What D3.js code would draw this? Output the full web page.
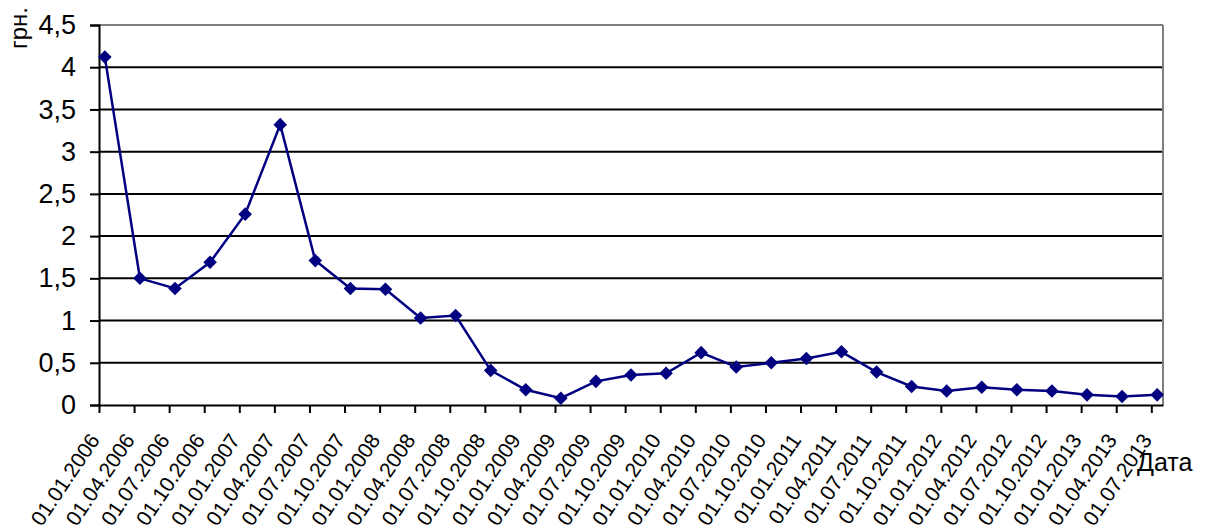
<!DOCTYPE html>
<html>
<head>
<meta charset="utf-8">
<script src="https://cdn.jsdelivr.net/npm/d3@7"></script>
<style>
  html, body { margin: 0; padding: 0; background: #fff; }
  svg { display: block; font-family: Arial, "Liberation Sans", sans-serif; }
</style>
</head>
<body>
<svg id="chart" width="1206" height="531"></svg>
<script>
// Quarterly dates (x categories)
const dates = [
  "01.01.2006","01.04.2006","01.07.2006","01.10.2006",
  "01.01.2007","01.04.2007","01.07.2007","01.10.2007",
  "01.01.2008","01.04.2008","01.07.2008","01.10.2008",
  "01.01.2009","01.04.2009","01.07.2009","01.10.2009",
  "01.01.2010","01.04.2010","01.07.2010","01.10.2010",
  "01.01.2011","01.04.2011","01.07.2011","01.10.2011",
  "01.01.2012","01.04.2012","01.07.2012","01.10.2012",
  "01.01.2013","01.04.2013","01.07.2013"
];
// Price, UAH
const values = [
  4.12, 1.50, 1.38, 1.69,
  2.26, 3.32, 1.71, 1.38,
  1.37, 1.03, 1.06, 0.41,
  0.18, 0.08, 0.28, 0.355,
  0.375, 0.62, 0.45, 0.50,
  0.55, 0.63, 0.39, 0.22,
  0.165, 0.21, 0.18, 0.165,
  0.12, 0.10, 0.12
];
const yTicks = [0, 0.5, 1, 1.5, 2, 2.5, 3, 3.5, 4, 4.5];
const yTitle = "грн.";
const xTitle = "Дата";

// months since 01.01.2006 for a dd.mm.yyyy label
function monthIndex(s) {
  const [, m, y] = s.split(".").map(Number);
  return (y - 2006) * 12 + (m - 1);
}

const plotLeft = 99, plotRight = 1163, plotTop = 25, plotBottom = 405;
const svg = d3.select("#chart");

// time axis measured in months; last boundary 01.08.2013
const x = d3.scaleLinear().domain([0, monthIndex("01.08.2013")]).range([plotLeft, plotRight]);
const y = d3.scaleLinear().domain([0, 4.5]).range([plotBottom, plotTop]);

// horizontal gridlines
svg.append("g").selectAll("line")
  .data(yTicks.filter(d => d > 0))
  .join("line")
  .attr("x1", plotLeft).attr("x2", plotRight)
  .attr("y1", d => y(d)).attr("y2", d => y(d))
  .attr("stroke", d => d === 4.5 ? "#808080" : "#000")
  .attr("stroke-width", 2);

// right plot border
svg.append("line")
  .attr("x1", plotRight).attr("x2", plotRight)
  .attr("y1", y(4.5)).attr("y2", y(0))
  .attr("stroke", "#808080").attr("stroke-width", 2);

// y axis
const yAxis = svg.append("g")
  .attr("transform", `translate(${plotLeft},0)`)
  .call(d3.axisLeft(y).tickValues(yTicks).tickSize(9).tickPadding(14)
    .tickFormat(d => String(d).replace(".", ",")));
yAxis.select(".domain").attr("stroke", "#000").attr("stroke-width", 2);
yAxis.selectAll(".tick line").attr("stroke", "#000").attr("stroke-width", 2);
yAxis.selectAll(".tick text")
  .attr("font-size", 27).attr("fill", "#000")
  .attr("font-family", "Arial, 'Liberation Sans', sans-serif");

// x axis
const xAxis = svg.append("g")
  .attr("transform", `translate(0,${plotBottom})`)
  .call(d3.axisBottom(x).tickValues(dates.map(monthIndex)).tickSize(8)
    .tickSizeOuter(0).tickFormat((d, i) => dates[i]));
xAxis.select(".domain").attr("stroke", "#000").attr("stroke-width", 2);
xAxis.selectAll(".tick line").attr("stroke", "#000").attr("stroke-width", 2);
xAxis.selectAll(".tick text")
  .attr("font-size", 21).attr("fill", "#000")
  .attr("font-family", "Arial, 'Liberation Sans', sans-serif")
  .attr("text-anchor", "end")
  .attr("dy", null)
  .attr("y", 0)
  .attr("transform", "translate(1,35) rotate(-56)");

// series line, points sit mid-month
const pts = dates.map((d, i) => [x(monthIndex(d) + 0.5), y(values[i])]);
svg.append("path")
  .attr("d", d3.line()(pts))
  .attr("fill", "none")
  .attr("stroke", "#000080")
  .attr("stroke-width", 2.5);

svg.append("g").selectAll("path")
  .data(pts)
  .join("path")
  .attr("d", d3.symbol().type(d3.symbolSquare).size(92))
  .attr("transform", d => `translate(${d[0]},${d[1]}) rotate(45)`)
  .attr("fill", "#000080");

// axis titles
svg.append("text")
  .attr("transform", "translate(27,49) rotate(-90)")
  .attr("font-size", 24).attr("fill", "#000")
  .text(yTitle);

svg.append("text")
  .attr("x", 1137).attr("y", 471)
  .attr("font-size", 25).attr("fill", "#000")
  .text(xTitle);
</script>
</body>
</html>
